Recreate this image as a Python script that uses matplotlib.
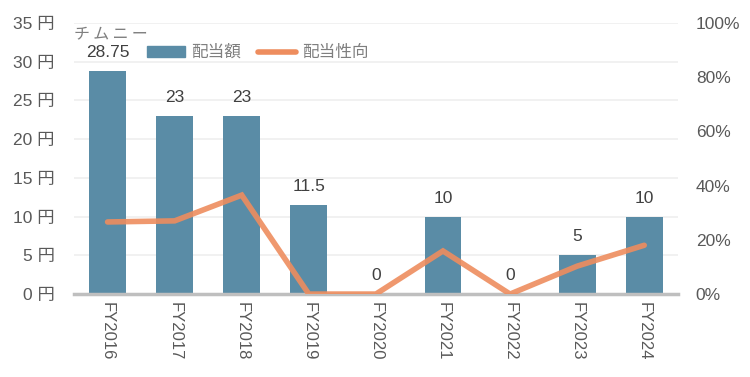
import matplotlib.pyplot as plt
from matplotlib.lines import Line2D
from matplotlib.patches import Patch

plt.rcParams['font.family'] = ['Liberation Sans', 'Noto Sans CJK JP', 'DejaVu Sans']

years = ['FY2016', 'FY2017', 'FY2018', 'FY2019', 'FY2020', 'FY2021', 'FY2022', 'FY2023', 'FY2024']
dividend = [28.75, 23, 23, 11.5, 0, 10, 0, 5, 10]
payout = [26.6, 27.0, 36.5, 0, 0, 15.9, 0, 10.3, 18.0]
labels = ['28.75', '23', '23', '11.5', '0', '10', '0', '5', '10']

bar_c = '#5a8ca6'
line_c = '#ee8d5e'
txt_c = '#595959'

fig = plt.figure(figsize=(7.5, 3.77), dpi=100)
ax1 = fig.add_axes([0.0987, 0.22, 0.805, 0.719])
ax2 = ax1.twinx()

x = list(range(len(years)))
ax1.bar(x, dividend, width=0.55, color=bar_c, zorder=2)
for i, v in enumerate(dividend):
    ax1.annotate(labels[i], (i, v), xytext=(0, 8), textcoords='offset points',
                 ha='center', va='bottom', fontsize=12.5, color='#404040')

ax2.plot(x, payout, color=line_c, lw=4, alpha=0.9, solid_capstyle='round',
         solid_joinstyle='miter', zorder=3)

ax1.set_xlim(-0.5, 8.5)
ax1.set_ylim(0, 35)
ax2.set_ylim(0, 100)
ax1.set_yticks(range(0, 36, 5))
ax1.set_yticklabels([f'{v} 円' for v in range(0, 36, 5)])
ax2.set_yticks(range(0, 101, 20))
ax2.set_yticklabels([f'{v}%' for v in range(0, 101, 20)])
ax1.set_xticks(x)
ax1.set_xticklabels(years, rotation=270)

ax1.grid(axis='y', color='#efefef', lw=1.2, zorder=0)
ax1.set_axisbelow(True)
for a in (ax1, ax2):
    for s in a.spines.values():
        s.set_visible(False)
    a.tick_params(length=0, labelsize=12.5, labelcolor=txt_c)
ax1.tick_params(axis='x', labelsize=12)
ax1.spines['bottom'].set_visible(True)
ax1.spines['bottom'].set_color('#bfbfbf')
ax1.spines['bottom'].set_linewidth(2.5)
ax1.spines['bottom'].set_zorder(4)
ax1.tick_params(axis='y', pad=14)
ax1.tick_params(axis='x', pad=6)
ax2.tick_params(axis='y', pad=13)
ax2.set_zorder(ax1.get_zorder() + 1)
ax2.patch.set_visible(False)

ax1.text(0.0, 0.99, 'チ\u2009ム\u2009ニ\u2009ー', transform=ax1.transAxes, fontsize=11.5,
         color='#7f7f7f', ha='left', va='top', family=['Noto Sans CJK JP', 'DejaVu Sans'])

handles = [Patch(color=bar_c), Line2D([], [], color=line_c, lw=4, solid_capstyle='round')]
ax1.legend(handles, ['配当額', '配当性向'], loc='upper left', bbox_to_anchor=(0.096, 0.975),
           ncol=2, frameon=False, fontsize=12, labelcolor='#7f7f7f',
           handlelength=2.3, handleheight=0.6, columnspacing=1.0, handletextpad=0.35)

fig.savefig('out.png')
